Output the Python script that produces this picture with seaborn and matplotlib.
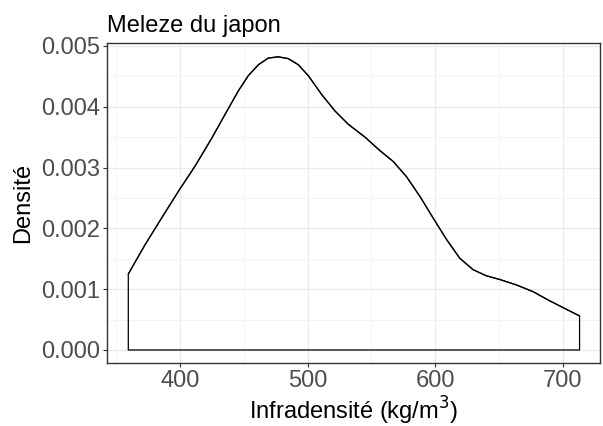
import numpy as np
import pandas as pd
import matplotlib
matplotlib.use("Agg")
import matplotlib.pyplot as plt
import matplotlib.ticker as mticker
import seaborn as sns

# density curve (Infradensite kg/m3 vs density)
infradensite = [359.5, 372.6, 385.6, 400.0, 411.7, 424.8, 435.2, 445.7, 453.5, 461.4,
                469.2, 477.0, 484.9, 492.7, 500.5, 511.0, 521.4, 531.9, 544.9, 556.5,
                567.0, 577.4, 587.8, 598.3, 608.7, 619.1, 629.6, 640.0, 650.4, 663.5,
                676.5, 689.5, 702.6, 713.0]
densite = [0.00125, 0.00173, 0.00217, 0.00265, 0.00302, 0.00348, 0.00387, 0.00426, 0.00451, 0.00469,
           0.00480, 0.00482, 0.00479, 0.00469, 0.00451, 0.00420, 0.00393, 0.00371, 0.00350, 0.00328,
           0.00310, 0.00285, 0.00253, 0.00217, 0.00182, 0.00151, 0.00132, 0.00122, 0.00116, 0.00107,
           0.00096, 0.00081, 0.00067, 0.00056]
x_ticks = [400, 500, 600, 700]
y_ticks = [0.000, 0.001, 0.002, 0.003, 0.004, 0.005]

df = pd.DataFrame({'x': infradensite, 'y': densite})

sns.set_theme(style='white')
plt.rcParams['font.family'] = ['Liberation Sans', 'DejaVu Sans']

fig = plt.figure(figsize=(6.03, 4.26), dpi=100)
ax = fig.add_axes([0.177, 0.147, 0.818, 0.751])

# closed outline like geom_density
ax.fill_between(df['x'], df['y'], 0, facecolor='none', edgecolor='black', linewidth=0.9, zorder=3)
sns.lineplot(data=df, x='x', y='y', ax=ax, color='black', linewidth=0.9, zorder=4)

ax.set_xlim(342.6, 729)
ax.set_ylim(-0.00022, 0.00504)
ax.set_xticks(x_ticks)
ax.set_yticks(y_ticks)
ax.xaxis.set_minor_locator(mticker.MultipleLocator(50))
ax.yaxis.set_minor_locator(mticker.MultipleLocator(0.0005))
ax.yaxis.set_major_formatter(mticker.FormatStrFormatter('%.3f'))

ax.grid(which='major', color='#EBEBEB', linewidth=1.0)
ax.grid(which='minor', color='#F2F2F2', linewidth=0.6)
ax.set_axisbelow(True)
for s in ax.spines.values():
    s.set_color('#333333')
    s.set_linewidth(1.0)

ax.tick_params(axis='both', which='major', length=3, width=0.8, color='#333333',
               labelsize=17, labelcolor='#4D4D4D', pad=2, bottom=True, left=True)
ax.tick_params(axis='both', which='minor', length=0)

ax.set_xlabel('Infradensité (kg/m$^3$)', fontsize=17, color='black', labelpad=2)
ax.set_ylabel('Densité', fontsize=17, color='black', labelpad=5)
ax.set_title('Meleze du japon', fontsize=17, loc='left', pad=8, color='black')

fig.savefig('out.png', dpi=100)
